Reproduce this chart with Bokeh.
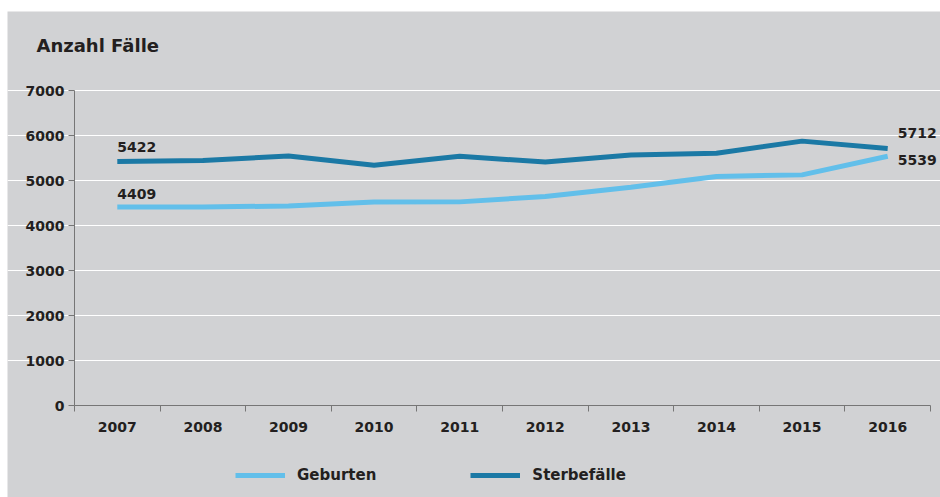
from bokeh.plotting import figure
from bokeh.models import (Range1d, FixedTicker, Label, Legend, LegendItem, Spacer)
from bokeh.layouts import column, row
from bokeh.embed import file_html
from bokeh.resources import INLINE

years = ["2007", "2008", "2009", "2010", "2011", "2012", "2013", "2014", "2015", "2016"]
geburten = [4409, 4410, 4435, 4520, 4525, 4645, 4850, 5090, 5125, 5539]
sterbefaelle = [5422, 5445, 5545, 5340, 5540, 5410, 5565, 5605, 5875, 5712]
y_ticks = [0, 1000, 2000, 3000, 4000, 5000, 6000, 7000]

BG = "#d1d2d4"
TXT = "#231f20"
C_GEB = "#62bfea"
C_STE = "#1b79a5"
FONT = "DejaVu Sans"

# layout constants (pixels)
W, H = 933, 486          # figure size
FIG_LEFT, FIG_TOP = 7, 11  # figure offset inside the page
X0_PX, X1_PX = 74, 930     # x-axis extent in page pixels
Y0_PX, Y7_PX = 405, 90     # y=0 and y=7000 in page pixels

n = len(years)
unit_w = (X1_PX - X0_PX) / n
px_per_val = (Y0_PX - Y7_PX) / 7000.0
x_start = -(X0_PX - FIG_LEFT) / unit_w
x_end = x_start + W / unit_w
y_end = (Y0_PX - FIG_TOP) / px_per_val
y_start = y_end - H / px_per_val

xs = [i + 0.5 for i in range(n)]

p = figure(width=W, height=H, output_backend="svg", toolbar_location=None,
           x_range=Range1d(x_start, x_end), y_range=Range1d(y_start, y_end),
           min_border=0)
p.title = None
p.background_fill_color = BG
p.border_fill_color = BG
p.outline_line_color = None

r_geb = p.line(xs, geburten, line_color=C_GEB, line_width=5)
r_ste = p.line(xs, sterbefaelle, line_color=C_STE, line_width=5)

# axes
p.xaxis.fixed_location = 0
p.xaxis.bounds = (0, n)
p.yaxis.fixed_location = 0
p.yaxis.bounds = (0, 7000)
p.xaxis.ticker = FixedTicker(ticks=xs, minor_ticks=list(range(n + 1)))
p.xaxis.major_label_overrides = {x: y for x, y in zip(xs, years)}
p.xaxis.major_tick_out = 0
p.xaxis.major_tick_in = 0
p.xaxis.minor_tick_out = 6
p.xaxis.minor_tick_in = 0
p.yaxis.ticker = FixedTicker(ticks=y_ticks)
p.yaxis.minor_tick_out = 0
p.yaxis.minor_tick_in = 0
p.yaxis.major_tick_out = 6
p.yaxis.major_tick_in = 0
for ax in (p.xaxis, p.yaxis):
    ax.axis_line_color = "#767676"
    ax.major_tick_line_color = "#767676"
    ax.minor_tick_line_color = "#767676"
    ax.major_label_text_font = FONT
    ax.major_label_text_font_style = "bold"
    ax.major_label_text_font_size = "14px"
    ax.major_label_text_color = TXT
p.xaxis.major_label_standoff = 10
p.yaxis.major_label_standoff = 4

p.xgrid.visible = False
p.ygrid.grid_line_color = "white"
p.ygrid.grid_line_width = 1
p.ygrid.ticker = FixedTicker(ticks=y_ticks[1:])
p.ygrid.bounds = (0, n)

# title
p.add_layout(Label(x=x_start + (36 - FIG_LEFT) / unit_w, y=8000, text="Anzahl Fälle",
                   text_font=FONT, text_font_style="bold", text_font_size="18px",
                   text_color=TXT, text_baseline="middle", text_align="left"))

# data labels
lab = dict(text_font=FONT, text_font_style="bold", text_font_size="14px", text_color=TXT)
p.add_layout(Label(x=xs[0], y=sterbefaelle[0], text=str(sterbefaelle[0]), x_offset=0, y_offset=15,
                   text_baseline="middle", text_align="left", **lab))
p.add_layout(Label(x=xs[0], y=geburten[0], text=str(geburten[0]), x_offset=0, y_offset=13,
                   text_baseline="middle", text_align="left", **lab))
p.add_layout(Label(x=xs[-1], y=sterbefaelle[-1], text=str(sterbefaelle[-1]), x_offset=10, y_offset=15,
                   text_baseline="middle", text_align="left", **lab))
p.add_layout(Label(x=xs[-1], y=geburten[-1], text=str(geburten[-1]), x_offset=10, y_offset=-4,
                   text_baseline="middle", text_align="left", **lab))

legend = Legend(items=[LegendItem(label="Geburten", renderers=[r_geb]),
                       LegendItem(label="Sterbefälle", renderers=[r_ste])],
                location=(235 - FIG_LEFT, 12), orientation="horizontal",
                background_fill_alpha=0, border_line_color=None,
                padding=0, margin=0, spacing=94, glyph_width=50, glyph_height=20,
                label_standoff=12, label_text_font=FONT, label_text_font_style="bold",
                label_text_font_size="15px", label_text_color=TXT)
p.add_layout(legend, "center")

layout = column(Spacer(height=FIG_TOP, width=940),
                row(Spacer(width=FIG_LEFT, height=H), p, spacing=0), spacing=0)
open("out.html", "w").write(file_html(layout, INLINE))
